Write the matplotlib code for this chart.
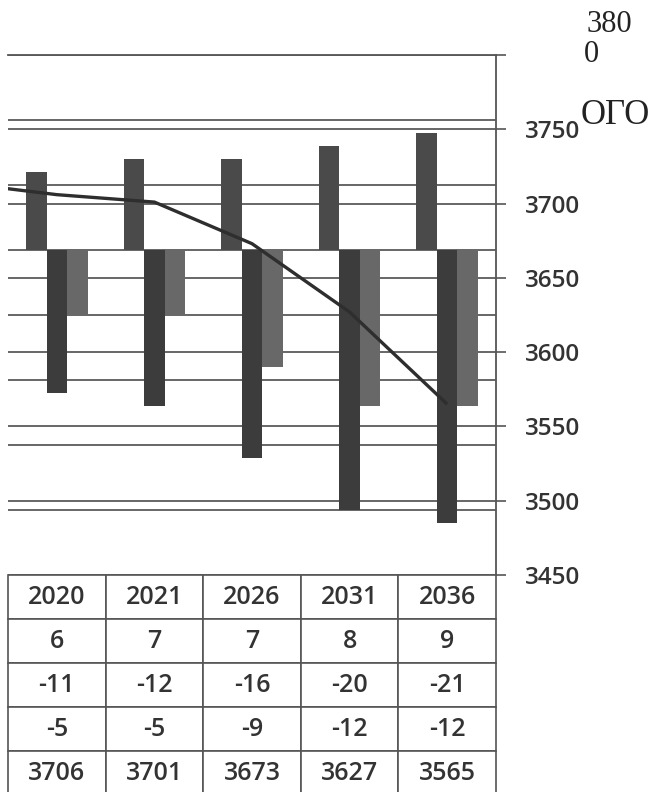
import matplotlib
matplotlib.use('Agg')
import matplotlib.pyplot as plt
import numpy as np

# Data (table under the plot)
years = ['2020', '2021', '2026', '2031', '2036']
series_pos = [6, 7, 7, 8, 9]            # positive bars (left scale)
series_neg1 = [-11, -12, -16, -20, -21]  # dark negative bars (left scale)
series_neg2 = [-5, -5, -9, -12, -12]     # light negative bars (left scale)
population = [3706, 3701, 3673, 3627, 3565]  # line (right scale)
lead_in_value = 3714  # previous point, cut off at the left edge of the scan

left_ticks = list(range(-25, 16, 5))
right_ticks = list(range(3450, 3801, 50))

W, H = 657, 792
fig = plt.figure(figsize=(W / 100, H / 100), dpi=100)
fig.patch.set_facecolor('white')

rect = [8 / W, 1 - 575 / H, 488 / W, 520 / H]
grid_kw = dict(color='#5a5a5a', linewidth=1.3)
x = np.arange(len(years))

# right scale: grid + ticks (bottom layer)
ax_r = fig.add_axes(rect, zorder=1)
ax_r.set_xlim(-0.5, len(years) - 0.5)
ax_r.set_ylim(3450, 3800)
ax_r.set_yticks(right_ticks)
ax_r.set_yticklabels([str(t) for t in right_ticks[:-1]] + [''])
ax_r.yaxis.tick_right()
ax_r.tick_params(axis='y', direction='out', length=7, width=1.2, color='#555555',
                 pad=14, labelsize=17.5, labelcolor='#333333')
for lab in ax_r.get_yticklabels():
    lab.set_fontfamily('Open Sans')
    lab.set_fontweight('semibold')
ax_r.set_xticks([])
ax_r.grid(axis='y', **grid_kw)
for s in ['left', 'bottom']:
    ax_r.spines[s].set_visible(False)
for s in ['right', 'top']:
    ax_r.spines[s].set_color('#555555')
    ax_r.spines[s].set_linewidth(1.3)

# left scale: grid + bars
ax_l = fig.add_axes(rect, zorder=2)
ax_l.patch.set_alpha(0)
ax_l.set_xlim(-0.5, len(years) - 0.5)
ax_l.set_ylim(-25, 15)
ax_l.set_yticks(left_ticks)
ax_l.tick_params(axis='y', left=False, labelleft=False)
ax_l.set_xticks([])
ax_l.grid(axis='y', **grid_kw)
ax_l.set_axisbelow(True)
for s in ax_l.spines.values():
    s.set_visible(False)

bw = 0.21
ax_l.bar(x - bw, series_pos, width=bw, color='#4a4a4a', zorder=3)
ax_l.bar(x, series_neg1, width=bw, color='#3c3c3c', zorder=3)
ax_l.bar(x + bw, series_neg2, width=bw, color='#686868', zorder=3)

# line on right scale (top layer)
ax_line = fig.add_axes(rect, zorder=3)
ax_line.patch.set_alpha(0)
ax_line.set_xlim(-0.5, len(years) - 0.5)
ax_line.set_ylim(3450, 3800)
ax_line.axis('off')
ax_line.plot(np.concatenate([[-1], x]), [lead_in_value] + population,
             color='#2e2e2e', linewidth=2.4, solid_capstyle='butt')

# data table under the plot
cell_text = [years,
             [str(v) for v in series_pos],
             [str(v) for v in series_neg1],
             [str(v) for v in series_neg2],
             [str(v) for v in population]]
table_h = 220 / 520
tbl = ax_l.table(cellText=cell_text, cellLoc='center',
                 bbox=[0, -table_h, 1, table_h])
tbl.auto_set_font_size(False)
for cell in tbl.get_celld().values():
    cell.set_edgecolor('#555555')
    cell.set_linewidth(1.2)
    t = cell.get_text()
    t.set_fontsize(18)
    t.set_fontfamily('Open Sans')
    t.set_fontweight('semibold')
    t.set_color('#333333')

# stray scanned labels at the upper right
fig.text(586 / W, 1 - 24 / H, '380', family='Liberation Serif', fontsize=22,
         color='#222222', va='center', ha='left')
fig.text(584 / W, 1 - 54 / H, '0', family='Liberation Serif', fontsize=22,
         color='#222222', va='center', ha='left')
fig.text(581 / W, 1 - 115 / H, 'ОГО', family='Liberation Serif', fontsize=25,
         color='#222222', va='center', ha='left')

fig.savefig('out.png', dpi=100, facecolor='white')
